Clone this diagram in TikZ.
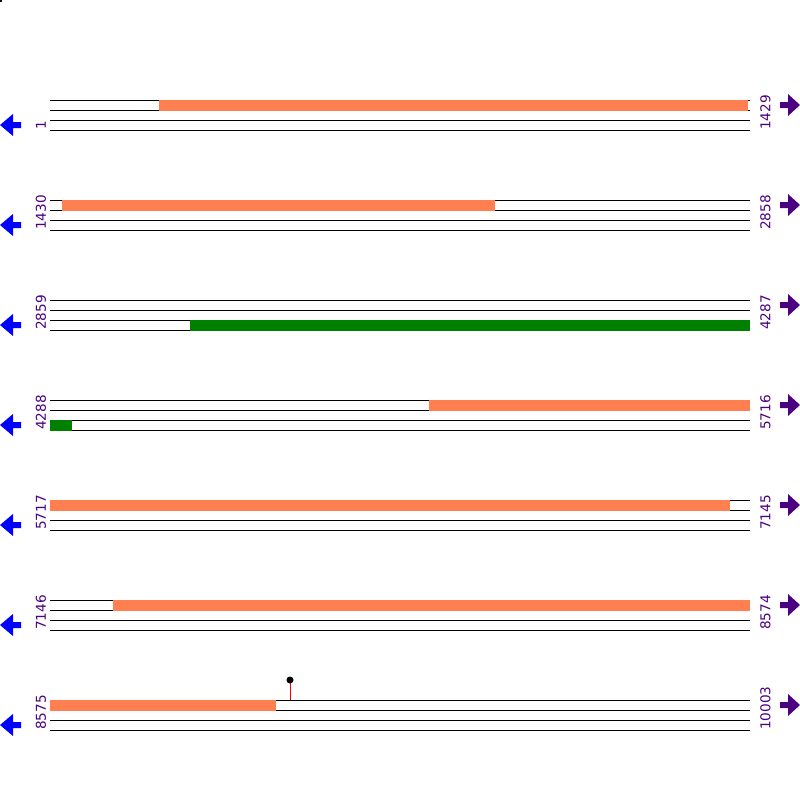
\documentclass[tikz,border=0pt]{standalone}
\usepackage{fontspec}
\setmainfont{DejaVu Sans}
\definecolor{exoncoral}{RGB}{255,127,80}
\definecolor{cdsgreen}{RGB}{0,128,0}
\definecolor{posindigo}{RGB}{75,0,130}

\begin{document}
\begin{tikzpicture}[x=1pt,y=-1pt,
	strand/.style={line width=1pt},
	poslabel/.style={rotate=90,anchor=west,inner sep=0pt,text=posindigo,font=\fontsize{13.6}{14}\selectfont},
	revarrow/.style={fill=blue},
	fwdarrow/.style={fill=posindigo}]
	\useasboundingbox (0,0) rectangle (800,800);
	\fill (0,0) rectangle (2,2);
	% the seven rows of the sequence
	\foreach \i/\first/\last in {0/1/1429,1/1430/2858,2/2859/4287,3/4288/5716,4/5717/7145,5/7146/8574,6/8575/10003}{
		\pgfmathsetmacro{\yy}{100+100*\i}
		\foreach \k in {0,10,20,30}
			\draw[strand] (50,\yy+\k)--(750,\yy+\k);
		\node[poslabel] (start\i) at (41,\yy+30) {\first};
		\node[poslabel] (end\i) at (765.5,\yy+30) {\last};
		\fill[revarrow] (0,\yy+25)--(13,\yy+14)--(13,\yy+22)--(21,\yy+22)--(21,\yy+28)--(13,\yy+28)--(13,\yy+36)--cycle;
		\fill[fwdarrow] (800,\yy+5)--(788,\yy-6)--(788,\yy+2)--(780,\yy+2)--(780,\yy+8)--(788,\yy+8)--(788,\yy+16)--cycle;
	}
	% features
	\fill[exoncoral] (159,99.5) rectangle (748,110.5);
	\fill[exoncoral] (62,199.5) rectangle (495,210.5);
	\fill[cdsgreen] (190,319.5) rectangle (750,330.5);
	\fill[exoncoral] (429,399.5) rectangle (750,410.5);
	\fill[cdsgreen] (50,419.5) rectangle (72,430.5);
	\fill[exoncoral] (50,499.5) rectangle (730,510.5);
	\fill[exoncoral] (113,599.5) rectangle (750,610.5);
	\fill[exoncoral] (50,699.5) rectangle (276,710.5);
	\draw[red,line width=1pt] (290,700)--(290,680);
	\fill (290,680) circle (3.5);
\end{tikzpicture}
\end{document}
